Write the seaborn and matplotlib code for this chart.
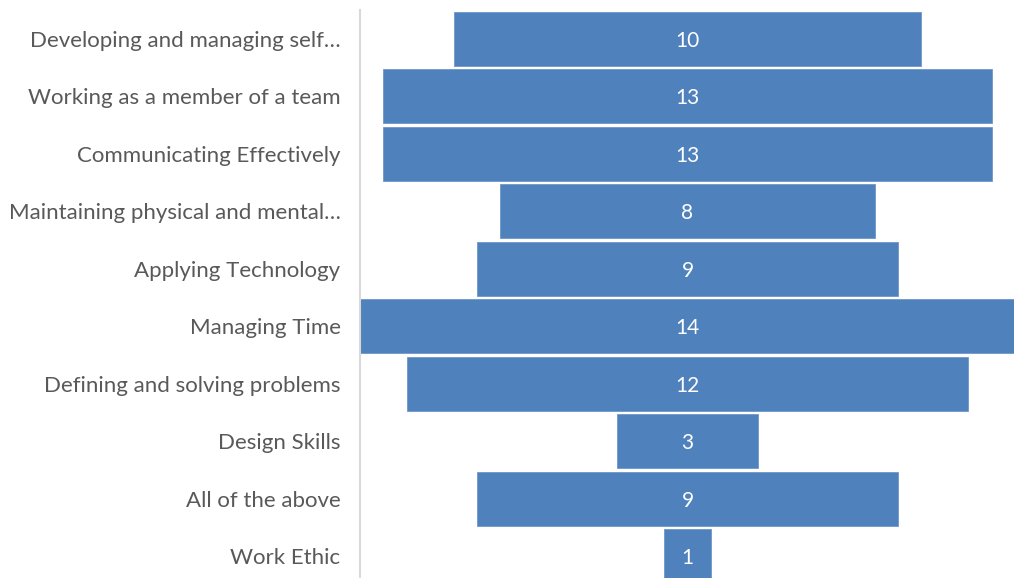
import matplotlib
matplotlib.use("Agg")
import matplotlib.pyplot as plt
import seaborn as sns
import pandas as pd

categories = [
    "Developing and managing self\u2026",
    "Working as a member of a team",
    "Communicating Effectively",
    "Maintaining physical and mental\u2026",
    "Applying Technology",
    "Managing Time",
    "Defining and solving problems",
    "Design Skills",
    "All of the above",
    "Work Ethic",
]
counts = [10, 13, 13, 8, 9, 14, 12, 3, 9, 1]

df = pd.DataFrame({"skill": categories, "count": counts})

sns.set_theme(style="white")
plt.rcParams["font.family"] = ["Lato", "DejaVu Sans"]

fig = plt.figure(figsize=(10.14, 5.78), dpi=100)
ax = fig.add_axes([360 / 1014, (578 - 585) / 578, 655 / 1014, 575 / 578])

sns.barplot(data=df, x="count", y="skill", orient="h", color="#4F81BD",
            saturation=1, width=0.94, ax=ax, edgecolor="#6F97CB", linewidth=0.6)

# Centre each bar on zero to form a funnel
for patch, v in zip(ax.patches, counts):
    w = patch.get_width()
    patch.set_x(-w / 2)
    cy = patch.get_y() + patch.get_height() / 2
    ax.text(0, cy + 0.035, f"{v}", ha="center", va="center", color="white",
            fontsize=15)

ax.set_xlim(-7, 7)
ax.set_ylim(len(categories) - 0.5, -0.5)
ax.set_xlabel("")
ax.set_ylabel("")
ax.set_xticks([])
ax.tick_params(axis="y", length=0, pad=14, labelsize=16, labelcolor="#595959")
for lbl in ax.get_yticklabels():
    lbl.set_y(lbl.get_position()[1])
for side in ["top", "right", "bottom"]:
    ax.spines[side].set_visible(False)
ax.spines["left"].set_color("#D9D9D9")
ax.spines["left"].set_linewidth(1.5)

fig.savefig("out.png", dpi=100)
